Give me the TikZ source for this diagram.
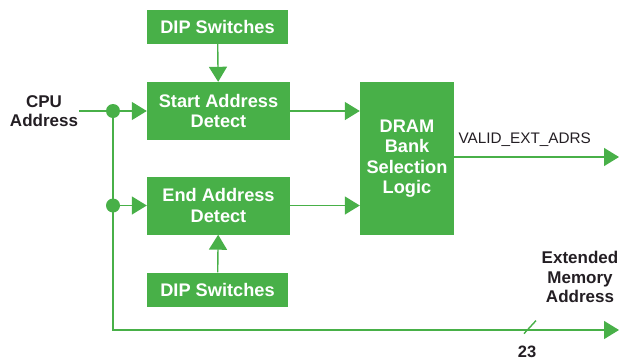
\documentclass[tikz,border=0pt]{standalone}
\usepackage{fontspec}
\setmainfont{Liberation Sans}
\usepackage{xcolor}
\usetikzlibrary{arrows.meta,positioning,calc}
\definecolor{hpgreen}{RGB}{72,176,72}
\definecolor{inkgray}{RGB}{35,30,35}

\begin{document}
\begin{tikzpicture}[x=1pt, y=-1pt,
  box/.style={rectangle, fill=hpgreen, draw=none, text=white, inner sep=0pt,
              font=\fontsize{18.2}{20.5}\selectfont\bfseries, align=center},
  dipbox/.style={box, minimum width=141pt, minimum height=34pt},
  detbox/.style={box, minimum width=143pt, minimum height=58pt},
  lbl/.style={text=inkgray, font=\fontsize{17}{19.5}\selectfont\bfseries, align=center, inner sep=1pt},
  wire/.style={draw=hpgreen, line width=1.4pt},
  arr/.style={wire, -{Triangle[length=15pt, width=18pt]}},
  dot/.style={circle, fill=hpgreen, minimum size=14pt, inner sep=0pt}
]
\useasboundingbox (0,0) rectangle (621,362);

% Boxes
\node[dipbox] (dipA)   at (217.5,27)    {DIP Switches};
\node[detbox] (start)  at (218.5,111)   {Start Address\\Detect};
\node[detbox] (finish) at (218.5,205.5) {End Address\\Detect};
\node[dipbox] (dipB)   at (217.5,289.5) {DIP Switches};
\node[box, minimum width=94pt, minimum height=153pt] (dram) at (407,158.5)
  {DRAM\\Bank\\Selection\\Logic};

% Labels
\node[lbl] (cpu) at (44,111) {CPU\\Address};
\node[lbl] (ext) at (580,277) {Extended\\Memory\\Address};
\node[text=inkgray, font=\fontsize{15.3}{17}\selectfont, anchor=west] (valid) at (455,140) {VALID\_EXT\_ADRS};
\node[text=inkgray, font=\fontsize{16.5}{18}\selectfont\bfseries] (width) at (527,352) {23};

% Junctions
\node[dot] (j1) at (113,111) {};
\node[dot] (j2) at (113,205.5) {};
\coordinate (corner) at (113,330);
\coordinate (extEnd) at (619,330);
\coordinate (validEnd) at (619,157);

% Arrows
\draw[arr] (cpu.east) -- (start.west);
\draw[arr] (j2) -- (finish.west);
\draw[arr] (j1) -- (corner) -- (extEnd);
\draw[arr] (dipA) -- (start);
\draw[arr] (dipB) -- (finish);
\draw[arr] (start) -- (start -| dram.west);
\draw[arr] (finish) -- (finish -| dram.west);
\draw[arr] (dram.east |- validEnd) -- (validEnd);
\draw[wire] ($(width.north)+(-3,-9)$) -- ++(12,-13);
\end{tikzpicture}
\end{document}
